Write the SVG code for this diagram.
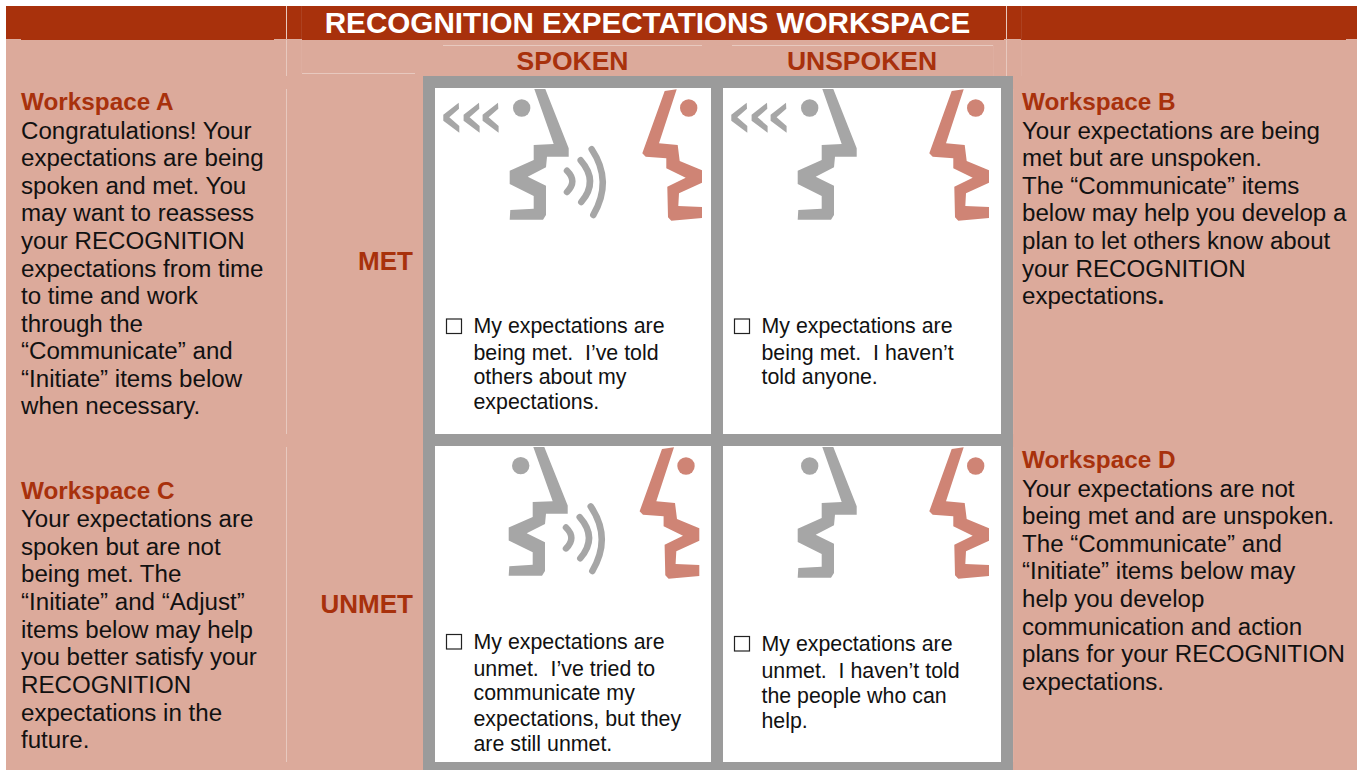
<svg xmlns="http://www.w3.org/2000/svg" xmlns:xlink="http://www.w3.org/1999/xlink" width="1357" height="770" viewBox="0 0 1357 770">
<style>
text{font-family:"Liberation Sans",Arial,sans-serif;fill:#111;white-space:pre}
.title{font-size:29.65px;font-weight:bold;fill:#fff;text-anchor:middle}
.col{font-size:26.5px;font-weight:bold;fill:#a8310c;text-anchor:middle}
.row{font-size:26px;font-weight:bold;fill:#a8310c;text-anchor:end}
.h{font-size:24.3px;font-weight:bold;fill:#a8310c}
.b{font-size:24.12px}
.c{font-size:21.35px}
.cell{fill:#fff}
.fg{fill:#a6a6a6}
.fr{fill:#cf8475}
.w{fill:none;stroke:#a6a6a6;stroke-width:6.5;stroke-linecap:round}
.box{fill:#fff;stroke:#222;stroke-width:1.2}
.f{stroke:#e8c9bf;stroke-width:1;fill:none}
.f2{stroke:#deaea0;stroke-width:1;fill:none}
.f3{stroke:#ad4120;stroke-width:1;fill:none}
</style>
<defs>
<g id="gface">
<polygon class="fg" points="822.3,89 833.3,89 856.7,148.3 856.7,156.7 835,156.7 834,167.3 815.7,176.7 834,185.7 834,215 831,219.7 797.7,219.7 798.3,210 821.7,208.7 821.7,196 797.7,184 797.7,170.7 821.7,160 821.7,145 841.7,144"/>
<circle class="fg" cx="809.7" cy="108" r="8.7"/>
</g>
<g id="rface">
<polygon class="fr" points="951.7,91 963.7,89.3 946,143.3 964.7,145 966.7,161 989,170.3 989,182.7 966,193.3 965.3,206 989,207 989,218 958.3,220.7 955,217.3 954.3,186.7 972.7,177.7 953.3,168.3 953.3,158.3 932.7,156.7 929.3,153.3"/>
<circle class="fr" cx="975.7" cy="108" r="8.7"/>
</g>
<g id="chev">
<polygon class="fg" points="746.7,102.7 747,108.7 737.3,117.3 747.3,126 747.3,132.7 731.3,120.7 731.3,114.7"/>
<polygon class="fg" transform="translate(20.3,0)" points="746.7,102.7 747,108.7 737.3,117.3 747.3,126 747.3,132.7 731.3,120.7 731.3,114.7"/>
<polygon class="fg" transform="translate(39.3,0)" points="746.7,102.7 747,108.7 737.3,117.3 747.3,126 747.3,132.7 731.3,120.7 731.3,114.7"/>
</g>
<g id="waves">
<path class="w" d="M567,170.7Q577.7,181.3 567,192"/>
<path class="w" d="M580.7,160.3Q599,181.3 581.3,202"/>
<path class="w" d="M591.7,149.3Q613,181.3 593.3,215"/>
</g>
</defs>

<rect x="6" y="6" width="1351" height="764" fill="#dcaa9b"/>
<rect x="6" y="6" width="1351" height="34" fill="#a8310c"/>

<g id="faint-lines">
<path class="f3" d="M301.5 6V39M1021.5 6V39"/>
<path class="f" d="M286.5 6V39M1006.5 6V39"/>
<path class="f2" d="M6 39.5H21M274 39.5H302M1004 39.5H1021M1346 39.5H1357"/>
<path class="f" d="M286.5 40V76M286.5 89V434M286.5 447V762M302 73.5H415"/>
<path class="f2" d="M301.5 40V73"/>
<path class="f" d="M443 45.5H702M732 45.5H993"/>
<path class="f2" d="M993.5 45V76M1021.5 40V76"/>
<path class="f" d="M1006.5 40V76"/>
<path class="f2" d="M1013.5 89V434M1013.5 447V762"/>
</g>

<g id="header">
<text class="title" x="647.5" y="33">RECOGNITION EXPECTATIONS WORKSPACE</text>
<text class="col" x="572.5" y="70">SPOKEN</text>
<text class="col" x="862" y="70">UNSPOKEN</text>
<text class="row" x="413" y="270">MET</text>
<text class="row" x="413" y="613">UNMET</text>
</g>

<g id="grid">
<rect x="423" y="76" width="590" height="694" fill="#9b9b9b"/>
</g>

<g id="cell-a">
<rect class="cell" x="435" y="88" width="276" height="346"/>
<use href="#chev" xlink:href="#chev" transform="translate(-288,0)"/>
<use href="#gface" xlink:href="#gface" transform="translate(-288,0)"/>
<use href="#waves" xlink:href="#waves"/>
<use href="#rface" xlink:href="#rface" transform="translate(-287,0)"/>
<rect class="box" x="446.5" y="319" width="15" height="14.5"/>
<text class="c" x="473.5" y="333">My expectations are</text>
<text class="c" x="473.5" y="360">being met.  I’ve told</text>
<text class="c" x="473.5" y="384">others about my</text>
<text class="c" x="473.5" y="409">expectations.</text>
</g>

<g id="cell-b">
<rect class="cell" x="723" y="88" width="278" height="346"/>
<use href="#chev" xlink:href="#chev"/>
<use href="#gface" xlink:href="#gface"/>
<use href="#rface" xlink:href="#rface"/>
<rect class="box" x="734.5" y="319" width="15" height="14.5"/>
<text class="c" x="761.5" y="333">My expectations are</text>
<text class="c" x="761.5" y="360">being met.  I haven’t</text>
<text class="c" x="761.5" y="384">told anyone.</text>
</g>

<g id="cell-c">
<rect class="cell" x="435" y="446" width="276" height="316"/>
<use href="#gface" xlink:href="#gface" transform="translate(-289,359.3) scale(1,.985)"/>
<use href="#waves" xlink:href="#waves" transform="translate(-1,359.3) scale(1,.985)"/>
<use href="#rface" xlink:href="#rface" transform="translate(-289.7,358)"/>
<rect class="box" x="446.5" y="634.5" width="15" height="14.5"/>
<text class="c" x="473.5" y="649">My expectations are</text>
<text class="c" x="473.5" y="676">unmet.  I’ve tried to</text>
<text class="c" x="473.5" y="700">communicate my</text>
<text class="c" x="473.5" y="726">expectations, but they</text>
<text class="c" x="473.5" y="751">are still unmet.</text>
</g>

<g id="cell-d">
<rect class="cell" x="723" y="446" width="278" height="316"/>
<use href="#gface" xlink:href="#gface" transform="translate(0,358)"/>
<use href="#rface" xlink:href="#rface" transform="translate(0,358)"/>
<rect class="box" x="734.5" y="636.5" width="15" height="14.5"/>
<text class="c" x="761.5" y="651">My expectations are</text>
<text class="c" x="761.5" y="678">unmet.  I haven’t told</text>
<text class="c" x="761.5" y="703">the people who can</text>
<text class="c" x="761.5" y="728">help.</text>
</g>

<g id="workspace-a">
<text class="h" x="21" y="110">Workspace A</text>
<text class="b" x="21" y="139">Congratulations! Your</text>
<text class="b" x="21" y="166">expectations are being</text>
<text class="b" x="21" y="194">spoken and met. You</text>
<text class="b" x="21" y="221">may want to reassess</text>
<text class="b" x="21" y="249">your RECOGNITION</text>
<text class="b" x="21" y="277">expectations from time</text>
<text class="b" x="21" y="304">to time and work</text>
<text class="b" x="21" y="332">through the</text>
<text class="b" x="21" y="359">“Communicate” and</text>
<text class="b" x="21" y="387">“Initiate” items below</text>
<text class="b" x="21" y="414">when necessary.</text>
</g>

<g id="workspace-b">
<text class="h" x="1022" y="110">Workspace B</text>
<text class="b" x="1022" y="139">Your expectations are being</text>
<text class="b" x="1022" y="166">met but are unspoken.</text>
<text class="b" x="1022" y="194">The “Communicate” items</text>
<text class="b" x="1022" y="221">below may help you develop a</text>
<text class="b" x="1022" y="249">plan to let others know about</text>
<text class="b" x="1022" y="277">your RECOGNITION</text>
<text class="b" x="1022" y="304">expectations<tspan font-weight="bold">.</tspan></text>
</g>

<g id="workspace-c">
<text class="h" x="21" y="499">Workspace C</text>
<text class="b" x="21" y="527">Your expectations are</text>
<text class="b" x="21" y="555">spoken but are not</text>
<text class="b" x="21" y="582">being met. The</text>
<text class="b" x="21" y="610">“Initiate” and “Adjust”</text>
<text class="b" x="21" y="638">items below may help</text>
<text class="b" x="21" y="665">you better satisfy your</text>
<text class="b" x="21" y="693">RECOGNITION</text>
<text class="b" x="21" y="721">expectations in the</text>
<text class="b" x="21" y="748">future.</text>
</g>

<g id="workspace-d">
<text class="h" x="1022" y="468">Workspace D</text>
<text class="b" x="1022" y="497">Your expectations are not</text>
<text class="b" x="1022" y="524">being met and are unspoken.</text>
<text class="b" x="1022" y="552">The “Communicate” and</text>
<text class="b" x="1022" y="579">“Initiate” items below may</text>
<text class="b" x="1022" y="607">help you develop</text>
<text class="b" x="1022" y="635">communication and action</text>
<text class="b" x="1022" y="662">plans for your RECOGNITION</text>
<text class="b" x="1022" y="690">expectations.</text>
</g>
</svg>
